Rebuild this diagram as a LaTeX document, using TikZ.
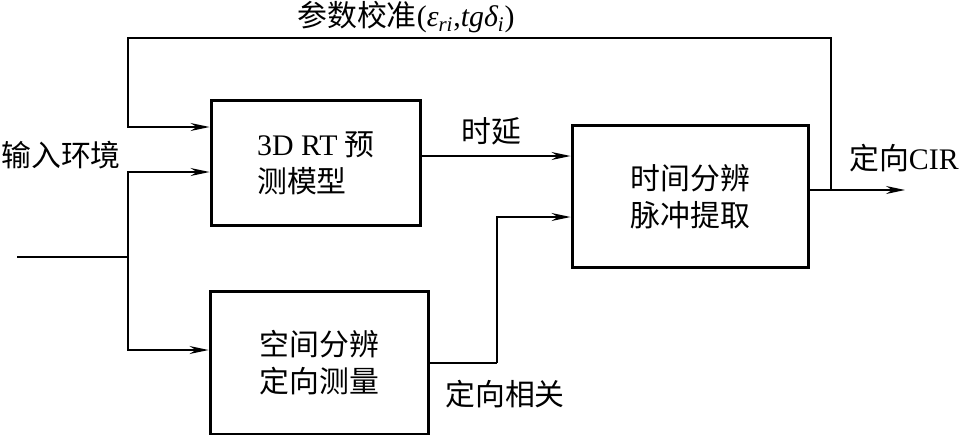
\documentclass[tikz,border=0pt]{standalone}
\usepackage{fontspec}
\setmainfont{Liberation Serif}
\newfontfamily\cjk{Noto Sans CJK SC}
\usetikzlibrary{arrows.meta,positioning}

\begin{document}
\begin{tikzpicture}[x=0.02cm,y=-0.02cm,every node/.style={font=\fontsize{17pt}{21pt}\selectfont},
  block/.style={draw,line width=1.7pt,inner sep=0pt,align=left},
  link/.style={line width=.75pt},
  feed/.style={link,-{Stealth[length=3.8mm,width=1.6mm]}}]
\useasboundingbox (0,0) rectangle (961,437);
% blocks
\node[block,minimum width=4.2cm,minimum height=2.5cm] (rt) at (316,163) {3D RT {\cjk 预}\\{\cjk 测模型}};
\node[block,minimum width=4.38cm,minimum height=2.86cm] (dir) at (319.5,362.5) {{\cjk 空间分辨}\\{\cjk 定向测量}};
\node[block,minimum width=4.74cm,minimum height=2.86cm] (ex) at (690.5,196.5) {{\cjk 时间分辨}\\{\cjk 脉冲提取}};
% labels
\node (calib) at (406,17) {{\cjk 参数校准}({\itshape ε\textsubscript{ri}},{\itshape tgδ\textsubscript{i}})};
\node (inlbl) at (61,155) {\cjk 输入环境};
\node (delay) at (491,131) {\cjk 时延};
\node (corr) at (505,394) {\cjk 定向相关};
\node (cir) at (904,158) {{\cjk 定向}CIR};
% junctions
\coordinate (in) at (17,257);
\coordinate (split) at (128,257);
\coordinate (top) at (128,38);
\coordinate (tap) at (831,190);
\coordinate (out) at (905,190);
\coordinate (corner) at (497,363);
% connectors
\draw[link] (in) -- (split);
\draw[feed] (split) |- (rt.west |- 0,172);
\draw[feed] (split) |- (dir.west |- 0,350);
\draw[feed] (rt.east |- 0,156) -- (ex.west |- 0,156);
\draw[link] (dir.east |- corner) -- (corner);
\draw[feed] (corner) |- (ex.west |- 0,217);
\draw[feed] (ex.east |- out) -- (out);
\draw[feed] (tap) |- (top) |- (rt.west |- 0,127);
\end{tikzpicture}
\end{document}
